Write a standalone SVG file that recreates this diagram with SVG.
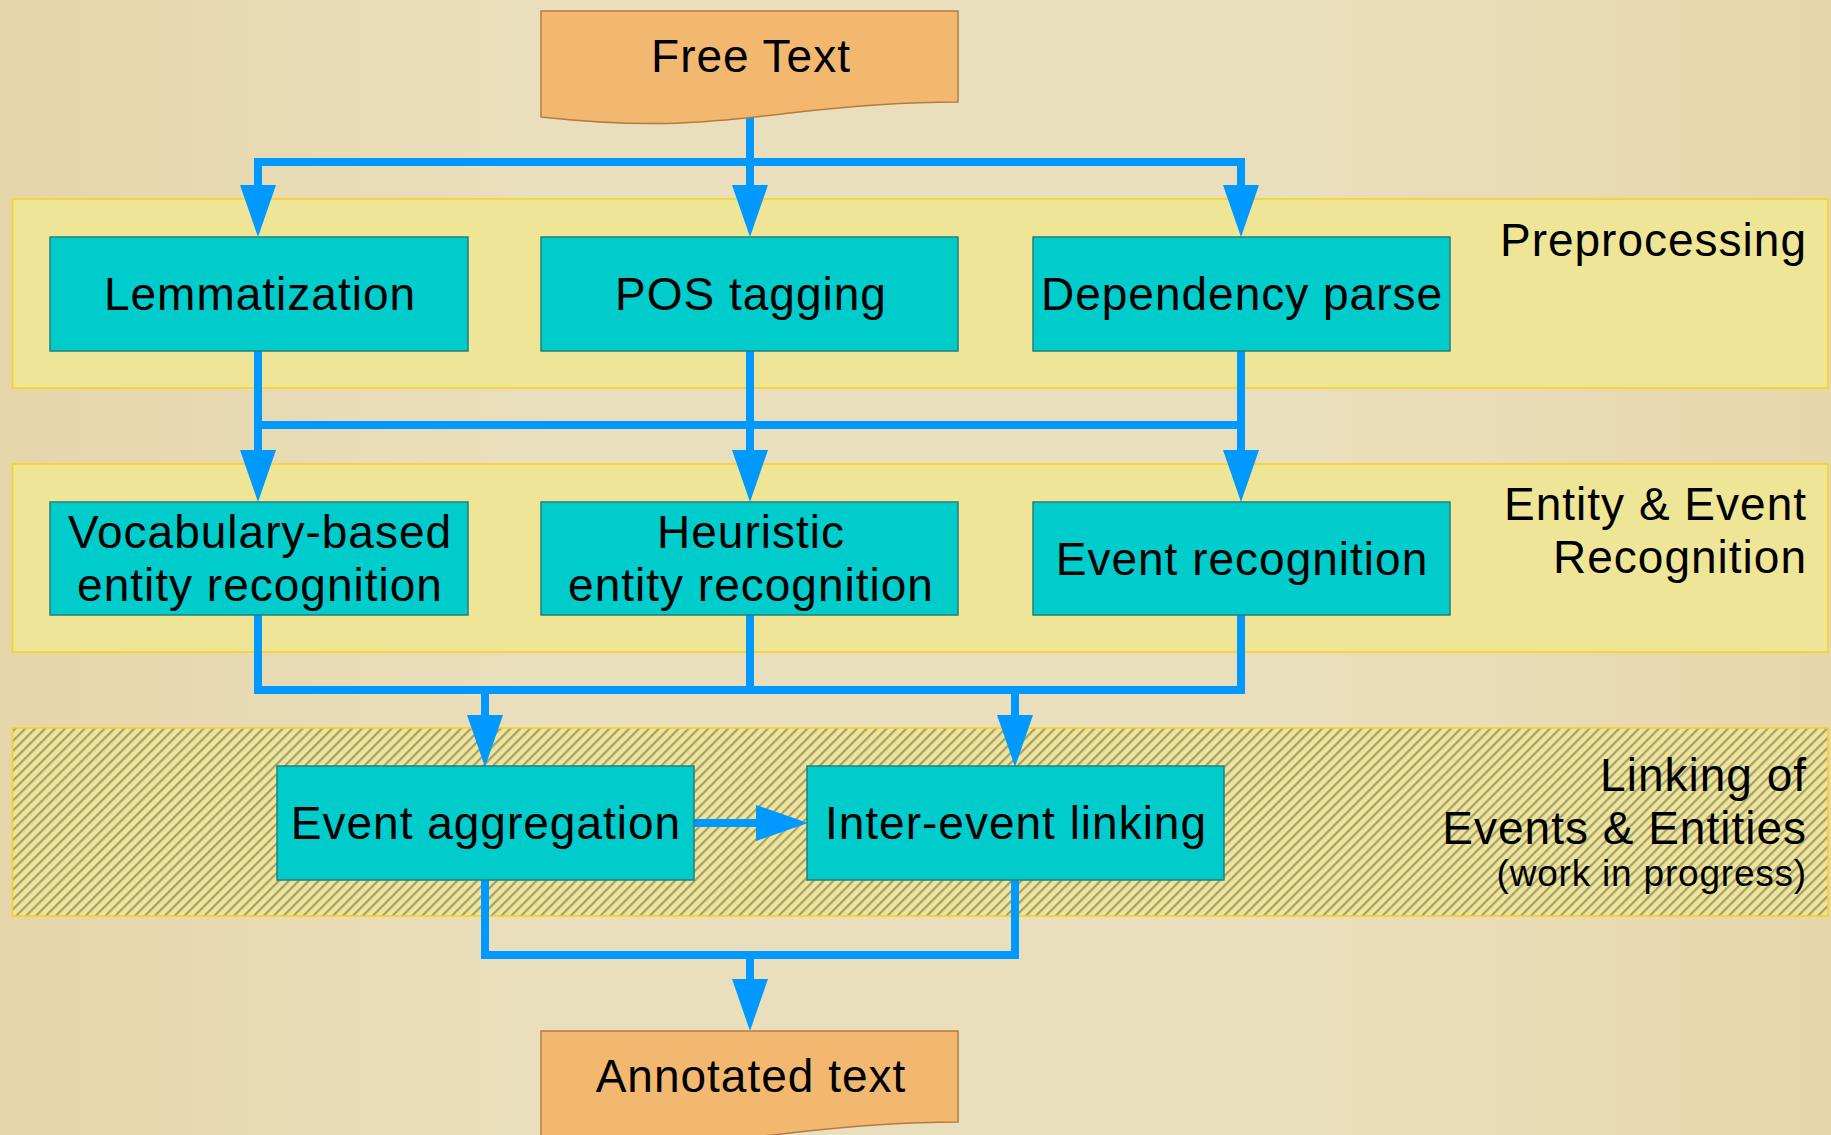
<svg xmlns="http://www.w3.org/2000/svg" width="1831" height="1135" viewBox="0 0 1831 1135">
  <defs>
    <linearGradient id="bg" x1="0" y1="0" x2="1" y2="0">
      <stop offset="0" stop-color="#e6d5a9"/>
      <stop offset="0.3" stop-color="#eadfbd"/>
      <stop offset="0.7" stop-color="#eadfbd"/>
      <stop offset="1" stop-color="#e7d6aa"/>
    </linearGradient>
    <pattern id="hatch" patternUnits="userSpaceOnUse" width="7" height="7" patternTransform="rotate(45)">
      <rect width="7" height="7" fill="#eee696"/>
      <rect x="0" y="0" width="2.2" height="7" fill="#a39e78"/>
    </pattern>
    <marker id="head" markerUnits="userSpaceOnUse" markerWidth="53" markerHeight="36" refX="0" refY="18" orient="auto" overflow="visible">
      <path d="M0,0 L52,18 L0,36 Z" fill="#0099ff"/>
    </marker>
    <style>
      .region { fill: #eee696; stroke: #f3d21c; stroke-width: 1.5; }
      .region.hatched { fill: url(#hatch); }
      .proc { fill: #00cccc; stroke: #23807c; stroke-width: 1.5; }
      .doc { fill: #f2b870; stroke: #b57a3f; stroke-width: 1.5; }
      text { font-family: "Liberation Sans", Arial, sans-serif; font-size: 46px; letter-spacing: 1px; fill: #000; }
      .label { text-anchor: middle; }
      .rlabel { text-anchor: end; }
      .small { font-size: 37px; letter-spacing: 0.8px; }
      .wire { fill: none; stroke: #0099ff; stroke-width: 8; stroke-linecap: square; }
      .arrow { fill: none; stroke: #0099ff; stroke-width: 8; stroke-linecap: butt; marker-end: url(#head); }
    </style>
  </defs>

  <!-- background -->
  <rect width="1831" height="1135" fill="url(#bg)"/>

  <!-- stage bands -->
  <g id="stage-preprocessing">
    <rect class="region" x="12.5" y="199" width="1815.5" height="189"/>
    <text class="rlabel" x="1807" y="256">Preprocessing</text>
  </g>
  <g id="stage-recognition">
    <rect class="region" x="12.5" y="464" width="1815.5" height="188"/>
    <text class="rlabel" x="1807" y="520">Entity &amp; Event</text>
    <text class="rlabel" x="1807" y="573">Recognition</text>
  </g>
  <g id="stage-linking">
    <rect class="region hatched" x="12.5" y="728" width="1815.5" height="188"/>
    <text class="rlabel" x="1807" y="791">Linking of</text>
    <text class="rlabel" x="1807" y="844">Events &amp; Entities</text>
    <text class="rlabel small" x="1807" y="886">(work in progress)</text>
  </g>

  <!-- connectors -->
  <g id="connectors">
    <!-- Free Text fan-out -->
    <path class="wire" d="M750,117 V162 M258,162 H1241"/>
    <path class="arrow" d="M258,162 V185"/>
    <path class="arrow" d="M750,162 V185"/>
    <path class="arrow" d="M1241,162 V185"/>
    <!-- preprocessing to recognition -->
    <path class="wire" d="M258,351 V425 M750,351 V425 M1241,351 V425 M258,425 H1241"/>
    <path class="arrow" d="M258,425 V450"/>
    <path class="arrow" d="M750,425 V450"/>
    <path class="arrow" d="M1241,425 V450"/>
    <!-- recognition to linking -->
    <path class="wire" d="M258,615 V690 M750,615 V690 M1241,615 V690 M258,690 H1241"/>
    <path class="arrow" d="M485,690 V715"/>
    <path class="arrow" d="M1015,690 V715"/>
    <!-- aggregation to inter-event linking -->
    <path class="arrow" d="M694,823 H756"/>
    <!-- linking to output -->
    <path class="wire" d="M485,880 V955 M1015,880 V955 M485,955 H1015"/>
    <path class="arrow" d="M750,955 V979"/>
  </g>

  <!-- input / output documents -->
  <g id="free-text">
    <path class="doc" d="M541,11 H958 V102 C900,102 850,106 790,113 C720,121 660,130 541,117 Z"/>
    <text class="label" x="751" y="72">Free Text</text>
  </g>
  <g id="annotated-text">
    <path class="doc" d="M541,1031 H958 V1122 C900,1122 850,1126 790,1133 C720,1141 660,1150 541,1137 Z"/>
    <text class="label" x="751" y="1092">Annotated text</text>
  </g>

  <!-- processing steps -->
  <g id="lemmatization">
    <rect class="proc" x="50" y="237" width="418" height="114"/>
    <text class="label" x="260" y="310">Lemmatization</text>
  </g>
  <g id="pos-tagging">
    <rect class="proc" x="541" y="237" width="417" height="114"/>
    <text class="label" x="751" y="310">POS tagging</text>
  </g>
  <g id="dependency-parse">
    <rect class="proc" x="1033" y="237" width="417" height="114"/>
    <text class="label" x="1242" y="310">Dependency parse</text>
  </g>
  <g id="vocabulary-ner">
    <rect class="proc" x="50" y="502" width="418" height="113"/>
    <text class="label" x="260" y="548">Vocabulary-based</text>
    <text class="label" x="260" y="601">entity recognition</text>
  </g>
  <g id="heuristic-ner">
    <rect class="proc" x="541" y="502" width="417" height="113"/>
    <text class="label" x="751" y="548">Heuristic</text>
    <text class="label" x="751" y="601">entity recognition</text>
  </g>
  <g id="event-recognition">
    <rect class="proc" x="1033" y="502" width="417" height="113"/>
    <text class="label" x="1242" y="575">Event recognition</text>
  </g>
  <g id="event-aggregation">
    <rect class="proc" x="277" y="766" width="417" height="114"/>
    <text class="label" x="486" y="839">Event aggregation</text>
  </g>
  <g id="inter-event-linking">
    <rect class="proc" x="807" y="766" width="417" height="114"/>
    <text class="label" x="1016" y="839">Inter-event linking</text>
  </g>
</svg>
